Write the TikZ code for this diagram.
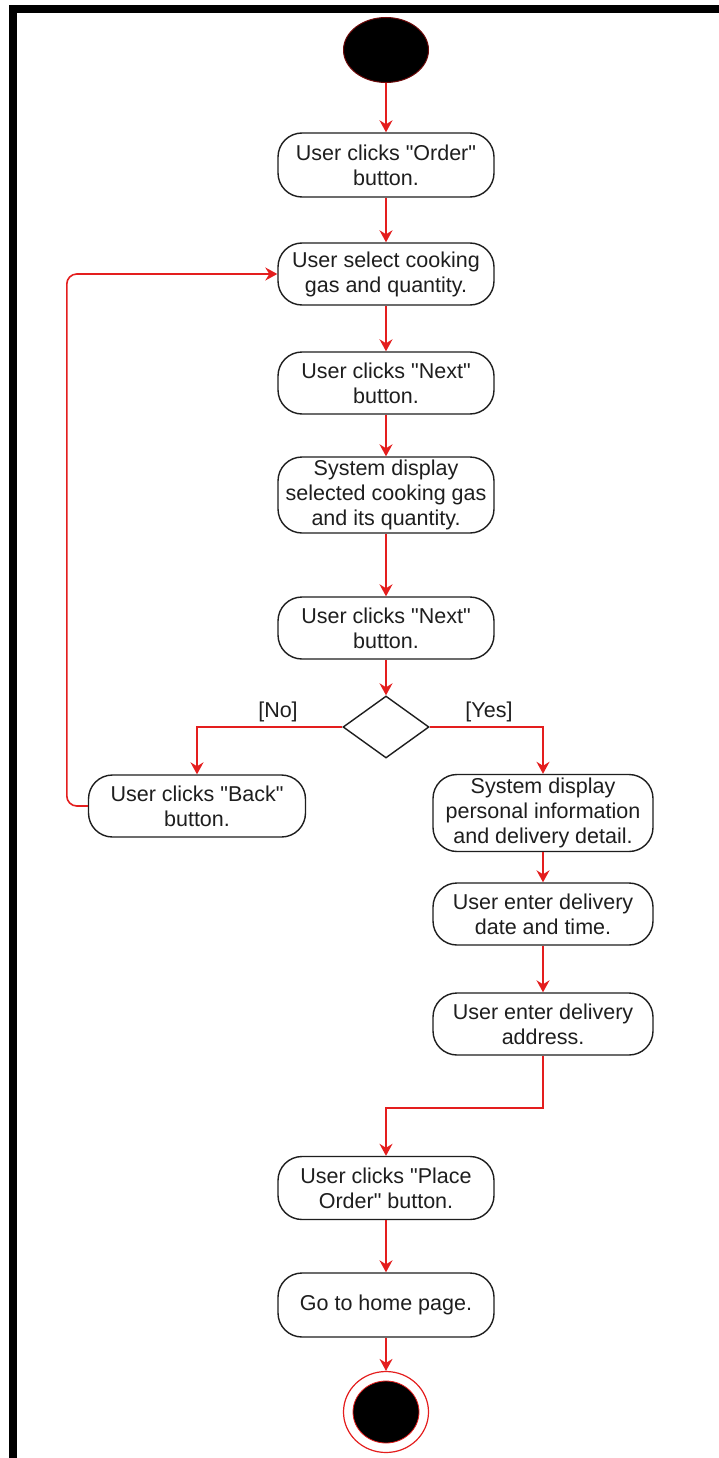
\documentclass[tikz,border=0pt]{standalone}
\usepackage{fontspec}
% no TeX ligature mapping on this family, so " stays a straight quote
\newfontfamily\flowfont{Liberation Sans}
\usetikzlibrary{arrows.meta,shapes.geometric}
\definecolor{flow}{RGB}{228,30,30}
\definecolor{ink}{RGB}{30,30,30}
\definecolor{rim}{RGB}{110,10,10}
\begin{document}
\begin{tikzpicture}[x=1pt,y=-1pt,
  act/.style={draw=ink, line width=1.4pt, rounded corners=24pt, minimum width=216pt,
    minimum height=62pt, align=center, text=ink, inner sep=0pt,
    font=\flowfont\fontsize{21.5}{25}\selectfont},
  guard/.style={text=ink, inner sep=0pt, font=\flowfont\fontsize{21.5}{25}\selectfont},
  decision/.style={diamond, draw=ink, line width=1.4pt, minimum width=86pt,
    minimum height=62pt, inner sep=0pt},
  flowline/.style={draw=flow, line width=1.6pt,
    -{Stealth[length=12pt,width=13pt,inset=4pt]}},
]
% page and frame
\useasboundingbox (0,0) rectangle (719,1458);
\fill[white] (0,0) rectangle (719,1458);
\fill[black] (9,5) rectangle (17,1458);
\fill[black] (9,5) rectangle (719,13);

% initial node
\node[ellipse, fill=black, draw=rim, line width=1pt, minimum width=85pt,
  minimum height=65pt, inner sep=0pt] (start) at (386,50) {};

% main column
\node[act, minimum height=64pt] (b1) at (386,165) {User clicks "Order"\\button.};
\node[act] (b2) at (386,274) {User select cooking\\gas and quantity.};
\node[act] (b3) at (386,383) {User clicks "Next"\\button.};
\node[act, minimum height=76pt] (b4) at (386,495) {System display\\selected cooking gas\\and its quantity.};
\node[act] (b5) at (386,628) {User clicks "Next"\\button.};
\node[decision] (dia) at (386,727) {};
\node[guard] (no) at (278,712) {[No]};
\node[guard] (yes) at (489,712) {[Yes]};

% branches
\node[act, minimum width=217pt] (back) at (197,806) {User clicks "Back"\\button.};
\node[act, minimum width=220pt, minimum height=77pt] (sp) at (543,813) {System display\\personal information\\and delivery detail.};
\node[act, minimum width=220pt] (de) at (543,914) {User enter delivery\\date and time.};
\node[act, minimum width=220pt] (ad) at (543,1024) {User enter delivery\\address.};

% closing steps
\node[act, minimum height=63pt] (po) at (386,1188) {User clicks "Place\\Order" button.};
\node[act, minimum height=64pt] (hp) at (386,1305) {Go to home page.};

% final node
\node[ellipse, draw=flow, line width=1.2pt, minimum width=85pt, minimum height=81pt,
  inner sep=0pt] (end) at (386,1412) {};
\node[ellipse, fill=black, draw=flow, line width=0.8pt, minimum width=66pt,
  minimum height=62pt, inner sep=0pt] (endcore) at (386,1412) {};

% control flow
\draw[flowline] (start) -- (b1);
\draw[flowline] (b1) -- (b2);
\draw[flowline] (b2) -- (b3);
\draw[flowline] (b3) -- (b4);
\draw[flowline] (b4) -- (b5);
\draw[flowline] (b5) -- (dia);
\draw[flowline] (dia.west) -| (back.north);
\draw[flowline] (dia.east) -| (sp.north);
\draw[flowline, rounded corners=10pt] (back.west) -- ++(-21,0) |- (b2.west);
\draw[flowline] (sp) -- (de);
\draw[flowline] (de) -- (ad);
\draw[flowline] (ad.south) -- ++(0,52) -| (po.north);
\draw[flowline] (po) -- (hp);
\draw[flowline] (hp) -- (end);
\end{tikzpicture}
\end{document}
